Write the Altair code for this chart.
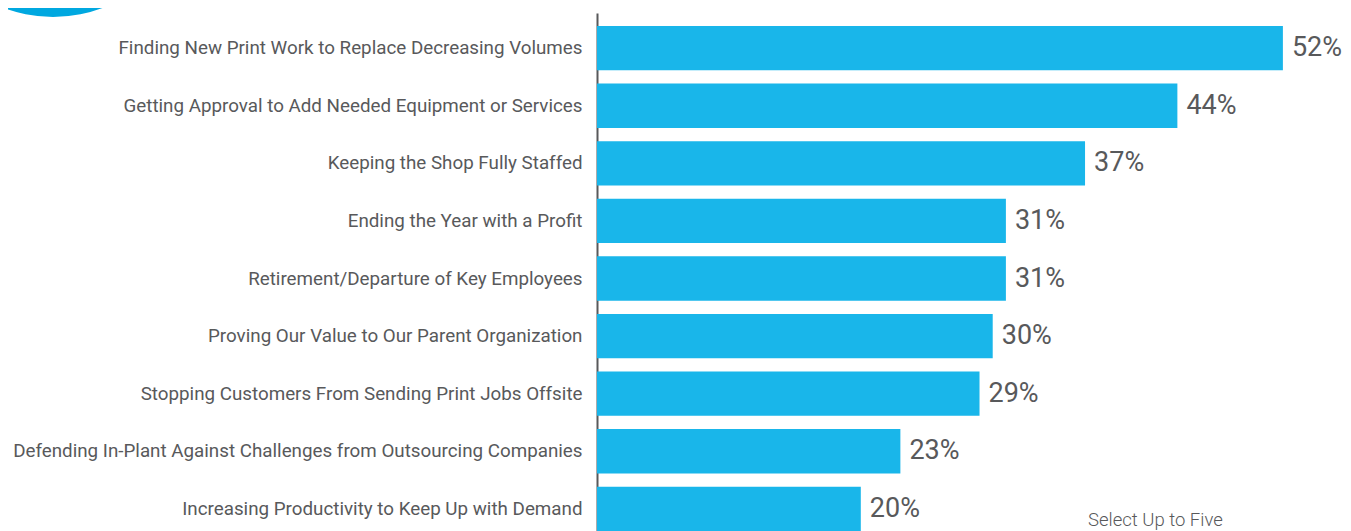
import altair as alt
import pandas as pd

categories = [
    "Finding New Print Work to Replace Decreasing Volumes",
    "Getting Approval to Add Needed Equipment or Services",
    "Keeping the Shop Fully Staffed",
    "Ending the Year with a Profit",
    "Retirement/Departure of Key Employees",
    "Proving Our Value to Our Parent Organization",
    "Stopping Customers From Sending Print Jobs Offsite",
    "Defending In-Plant Against Challenges from Outsourcing Companies",
    "Increasing Productivity to Keep Up with Demand",
]
values = [52, 44, 37, 31, 31, 30, 29, 23, 20]
value_labels = [f"{v}%" for v in values]
note = "Select Up to Five"

df = pd.DataFrame({"challenge": categories, "pct": values, "label": value_labels})

GRAY = "#58595b"
BAR = "#19b6ea"
W, H = 738, 531

y_enc = alt.Y(
    "challenge:N",
    sort=categories,
    scale=alt.Scale(paddingInner=0.23, paddingOuter=0.226),
    axis=alt.Axis(
        title=None, labelFontSize=18.8, labelColor=GRAY, labelFont="Roboto",
        labelPadding=15, ticks=False, domainColor=GRAY, domainWidth=2,
        labelLimit=700,
    ),
)
x_enc = alt.X("pct:Q", scale=alt.Scale(domain=[0, 55.95]), axis=None)

base = alt.Chart(df)
bars = base.mark_bar(color=BAR).encode(y=y_enc, x=x_enc)
text = base.mark_text(align="left", baseline="middle", dx=9, fontSize=27,
                      font="Roboto", color=GRAY).encode(y=y_enc, x=x_enc, text="label:N")

deco_df = pd.DataFrame({"d": [0]})
ring = alt.Chart(deco_df).mark_arc(theta=0, theta2=6.2832, radius=140.5, color="#00a8e0").encode(
    x=alt.value(-544), y=alt.value(-136.5))
disc = alt.Chart(deco_df).mark_arc(theta=0, theta2=6.2832, radius=127, color="#9dc96b").encode(
    x=alt.value(-544), y=alt.value(-136.5))

note_df = pd.DataFrame({"t": [note]})
note_txt = alt.Chart(note_df).mark_text(align="left", baseline="alphabetic", fontSize=18.5,
                                        font="Roboto", fontWeight=300, color=GRAY).encode(
    x=alt.value(491), y=alt.value(513), text="t:N")

chart = alt.layer(ring, disc, bars, text, note_txt).properties(
    width=W, height=H, padding={"left": 589, "top": 5, "right": 8, "bottom": 0},
    autosize=alt.AutoSizeParams(type="none"),
).configure_view(stroke=None)

chart.save("out.html", embed_options={"renderer": "svg", "actions": False})
